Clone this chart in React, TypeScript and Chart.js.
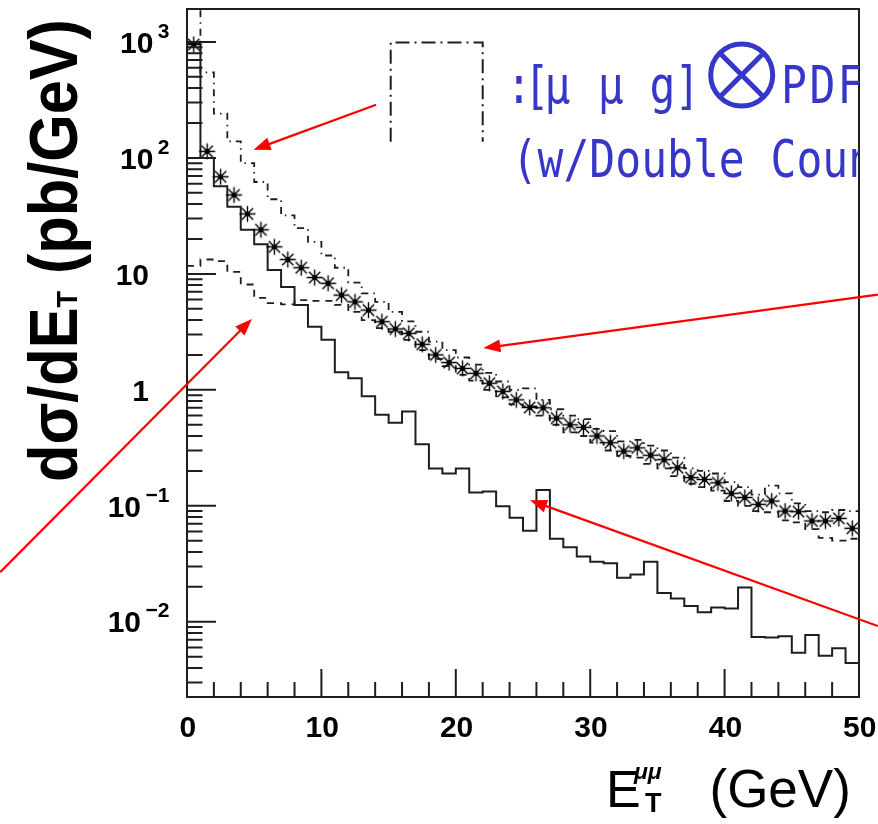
import React, { useEffect, useRef } from "react";
import { Chart, registerables } from "chart.js";

Chart.register(...registerables);

// ---- data ----
const binLowEdges = [
  0, 1, 2, 3, 4, 5, 6, 7, 8, 9, 10, 11, 12, 13, 14, 15, 16, 17, 18, 19, 20, 21, 22, 23, 24,
  25, 26, 27, 28, 29, 30, 31, 32, 33, 34, 35, 36, 37, 38, 39, 40, 41, 42, 43, 44, 45, 46, 47, 48, 49,
];
const lastBinUpperEdge = 50;

// asterisk markers (bin centres)
const starValues = [
  950, 114, 68.8, 47.9, 32.9, 24, 17.1, 13.3, 11.3, 9.3,
  8.3, 6.56, 5.74, 4.87, 3.87, 3.35, 3.07, 2.47, 2.0, 1.72,
  1.53, 1.39, 1.14, 0.97, 0.82, 0.705, 0.7, 0.57, 0.5, 0.475,
  0.4, 0.35, 0.296, 0.316, 0.273, 0.25, 0.213, 0.175, 0.169, 0.158,
  0.128, 0.118, 0.103, 0.11, 0.09, 0.089, 0.074, 0.074, 0.078, 0.064,
];
// solid histogram
const solidValues = [
  980, 100, 57, 38, 24, 18, 10.8, 7.7, 5.4, 3.5,
  2.7, 1.42, 1.26, 0.88, 0.61, 0.52, 0.65, 0.34, 0.21, 0.19,
  0.21, 0.13, 0.133, 0.099, 0.079, 0.061, 0.137, 0.052, 0.044, 0.0366,
  0.033, 0.032, 0.024, 0.0256, 0.033, 0.0177, 0.0159, 0.0137, 0.0121, 0.0133,
  0.013, 0.0197, 0.0074, 0.0073, 0.0075, 0.0054, 0.0077, 0.0051, 0.0059, 0.0044,
];
// upper dash-dotted histogram
const dashDotValues = [
  3000, 546, 241, 139, 90, 62, 44, 32, 24.8, 18.9,
  14.4, 11.3, 8.4, 6.8, 5.74, 4.7, 3.9, 3.17, 2.6, 2.2,
  1.9, 1.65, 1.4, 1.18, 1.0, 1.03, 0.82, 0.68, 0.6, 0.56,
  0.46, 0.44, 0.36, 0.37, 0.33, 0.3, 0.26, 0.21, 0.2, 0.19,
  0.16, 0.145, 0.125, 0.149, 0.128, 0.105, 0.09, 0.088, 0.092, 0.09,
];
// lower dashed histogram
const dashedValues = [
  11.7, 13.3, 12.9, 10.4, 8.1, 6.2, 5.6, 5.45, 5.95, 5.86,
  5.86, 5.4, 4.7, 4.0, 3.4, 3.17, 2.7, 2.2, 1.85, 1.6,
  1.35, 1.2, 1.0, 0.86, 0.75, 0.72, 0.6, 0.5, 0.43, 0.4,
  0.35, 0.3, 0.27, 0.26, 0.23, 0.21, 0.18, 0.155, 0.145, 0.135,
  0.11, 0.1, 0.09, 0.088, 0.075, 0.072, 0.063, 0.053, 0.05, 0.052,
];

// ---- axes / ticks ----
const X_MIN = 0;
const X_MAX = 50;
const Y_MIN = 0.002245;
const Y_MAX = 1924;
const xMajorTicks = [0, 10, 20, 30, 40, 50];
const xTickLabels = ["0", "10", "20", "30", "40", "50"];
const xMinorTicks = [2, 4, 6, 8, 12, 14, 16, 18, 22, 24, 26, 28, 32, 34, 36, 38, 42, 44, 46, 48];
const yMajorTicks = [1000, 100, 10, 1, 0.1, 0.01];
const yTickBase = ["10", "10", "10", "1", "10", "10"];
const yTickExp = ["3", "2", "", "", "\u22121", "\u22122"];
const yDecades = [0.001, 0.01, 0.1, 1, 10, 100, 1000];
const yMinorMultipliers = [2, 3, 4, 5, 6, 7, 8, 9];

// annotation arrows in data coordinates [x, y]
const arrows = [
  { from: [14.07, 287], to: [4.95, 117.5] },
  { from: [51.4, 6.63], to: [22.05, 2.29] },
  { from: [-13.9, 0.0268], to: [4.83, 4.09] },
  { from: [51.4, 0.00918], to: [25.52, 0.1116] },
];

const SANS = '"Liberation Sans", Arial, Helvetica, sans-serif';
const MONO = '"DejaVu Sans Mono", "Liberation Mono", monospace';
const BLUE = "#3636c8";
const INK = "#1e1e1e";

function histPoints(values: number[]) {
  const pts = binLowEdges.map((x, i) => ({ x, y: values[i] }));
  pts.push({ x: lastBinUpperEdge, y: values[values.length - 1] });
  return pts;
}

function makeStar(): HTMLCanvasElement {
  const c = document.createElement("canvas");
  c.width = 19;
  c.height = 19;
  const g = c.getContext("2d")!;
  g.translate(9.5, 9.5);
  g.strokeStyle = "#000";
  g.lineWidth = 1.4;
  const r = 8;
  g.beginPath();
  for (let k = 0; k < 4; k++) {
    const a = (k * Math.PI) / 4;
    g.moveTo(-r * Math.cos(a), -r * Math.sin(a));
    g.lineTo(r * Math.cos(a), r * Math.sin(a));
  }
  g.stroke();
  g.beginPath();
  g.arc(0, 0, 2.6, 0, Math.PI * 2);
  g.fillStyle = "#000";
  g.fill();
  return c;
}

const overlayPlugin = {
  id: "paw-overlay",
  afterDatasetsDraw(chart: any) {
    const { ctx, chartArea } = chart;
    const { left, right, top, bottom } = chartArea;
    const xs = chart.scales.x;
    const ys = chart.scales.y;
    ctx.save();
    ctx.strokeStyle = INK;
    ctx.lineWidth = 2;
    // frame
    ctx.strokeRect(left, top, right - left, bottom - top);
    // y ticks (inside)
    ctx.beginPath();
    yDecades.forEach((d) => {
      yMinorMultipliers.concat([1]).forEach((m) => {
        const v = m * d;
        if (v < Y_MIN || v > Y_MAX) return;
        const py = ys.getPixelForValue(v);
        const len = m === 1 ? 29 : 15.5;
        ctx.moveTo(left, py);
        ctx.lineTo(left + len, py);
      });
    });
    // x ticks (inside)
    xMajorTicks.forEach((v) => {
      const px = xs.getPixelForValue(v);
      ctx.moveTo(px, bottom);
      ctx.lineTo(px, bottom - 28);
    });
    xMinorTicks.forEach((v) => {
      const px = xs.getPixelForValue(v);
      ctx.moveTo(px, bottom);
      ctx.lineTo(px, bottom - 15);
    });
    ctx.stroke();
    ctx.restore();
  },
  afterDraw(chart: any) {
    const { ctx, chartArea } = chart;
    const { left, right, top, bottom } = chartArea;
    const xs = chart.scales.x;
    const ys = chart.scales.y;

    ctx.save();
    ctx.fillStyle = "#000";
    ctx.textBaseline = "alphabetic";

    // y tick labels
    yMajorTicks.forEach((v, i) => {
      const py = ys.getPixelForValue(v);
      const base = yTickBase[i];
      const exp = yTickExp[i];
      ctx.textAlign = "right";
      if (exp) {
        ctx.font = `bold 21px ${SANS}`;
        const we = ctx.measureText(exp).width;
        ctx.fillText(exp, 169.5, py - 4.3);
        ctx.font = `bold 30px ${SANS}`;
        ctx.fillText(base, 169.5 - we - 4.5, py + 10.7);
      } else {
        ctx.font = `bold 30px ${SANS}`;
        ctx.fillText(base, 149, py + 10.7);
      }
    });

    // x tick labels
    ctx.font = `bold 30px ${SANS}`;
    ctx.textAlign = "center";
    xMajorTicks.forEach((v, i) => {
      const px = xs.getPixelForValue(v);
      ctx.fillText(xTickLabels[i], px + 0.8, 736.7);
    });

    // x title  E^{μμ}_T (GeV)
    ctx.textAlign = "left";
    ctx.font = `52px ${SANS}`;
    ctx.fillText("E", 606, 806.5);
    ctx.font = `italic bold 23px ${SANS}`;
    ctx.fillText("\u03bc\u03bc", 634, 779);
    ctx.font = `bold 27px ${SANS}`;
    ctx.fillText("T", 645, 811.5);
    ctx.font = `53px ${SANS}`;
    ctx.fillText("(GeV)", 709.5, 807);

    // y title  dσ/dE_T (pb/GeV)
    ctx.save();
    ctx.translate(77, 482);
    ctx.rotate(-Math.PI / 2);
    const big = `bold 68px ${SANS}`;
    const small = `bold 30px ${SANS}`;
    ctx.font = big;
    const w1 = ctx.measureText("d\u03c3/dE").width;
    const w3 = ctx.measureText(" (pb/GeV)").width;
    ctx.font = small;
    const w2 = ctx.measureText("T").width;
    const sx = 463 / (w1 + w2 + w3);
    ctx.scale(sx, 1);
    ctx.font = big;
    ctx.fillText("d\u03c3/dE", 0, 0);
    ctx.font = small;
    ctx.fillText("T", w1, 0);
    ctx.font = big;
    ctx.fillText(" (pb/GeV)", w1 + w2, 0);
    ctx.restore();

    // legend box sample (dash-dot) and blue caption, clipped to plot area
    ctx.save();
    ctx.beginPath();
    ctx.rect(left, top, right - left, bottom - top);
    ctx.clip();
    ctx.strokeStyle = INK;
    ctx.lineWidth = 2;
    ctx.setLineDash([14, 5, 2, 5]);
    ctx.beginPath();
    ctx.moveTo(390.7, 141.7);
    ctx.lineTo(390.7, 42.5);
    ctx.lineTo(482.7, 42.5);
    ctx.lineTo(482.7, 141.7);
    ctx.stroke();
    ctx.setLineDash([]);

    ctx.fillStyle = BLUE;
    ctx.strokeStyle = BLUE;
    const monoFont = `43px ${MONO}`;
    const line1Chars = [":", "[", "\u03bc", "\u03bc", "g", "]", "P", "D", "F"];
    const line1Centers = [519, 536.7, 557.5, 610.8, 662.5, 687.5, 794, 822.5, 850.5];
    ctx.font = monoFont;
    ctx.textAlign = "center";
    line1Chars.forEach((ch, i) => {
      ctx.save();
      ctx.translate(line1Centers[i], 103.3);
      ctx.scale(1, 1.18);
      ctx.fillText(ch, 0, 0);
      ctx.restore();
    });
    // ⊗
    ctx.lineWidth = 5;
    ctx.beginPath();
    ctx.arc(741.7, 75, 31, 0, Math.PI * 2);
    ctx.stroke();
    const d = 31 * Math.SQRT1_2;
    ctx.beginPath();
    ctx.moveTo(741.7 - d, 75 - d);
    ctx.lineTo(741.7 + d, 75 + d);
    ctx.moveTo(741.7 + d, 75 - d);
    ctx.lineTo(741.7 - d, 75 + d);
    ctx.stroke();
    // second line
    ctx.textAlign = "left";
    ctx.save();
    ctx.translate(511.7, 176.7);
    ctx.scale(1, 1.18);
    ctx.fillText("(w/Double Counting)", 0, 0);
    ctx.restore();
    ctx.restore();

    // red arrows
    ctx.strokeStyle = "#ff0000";
    ctx.fillStyle = "#ff0000";
    ctx.lineWidth = 2.2;
    arrows.forEach((a) => {
      const x0 = xs.getPixelForValue(a.from[0]);
      const y0 = ys.getPixelForValue(a.from[1]);
      const x1 = xs.getPixelForValue(a.to[0]);
      const y1 = ys.getPixelForValue(a.to[1]);
      const dx = x1 - x0;
      const dy = y1 - y0;
      const L = Math.hypot(dx, dy);
      const ux = dx / L;
      const uy = dy / L;
      const hl = 17;
      const hw = 6.5;
      ctx.beginPath();
      ctx.moveTo(x0, y0);
      ctx.lineTo(x1 - ux * hl * 0.8, y1 - uy * hl * 0.8);
      ctx.stroke();
      ctx.beginPath();
      ctx.moveTo(x1, y1);
      ctx.lineTo(x1 - ux * hl - uy * hw, y1 - uy * hl + ux * hw);
      ctx.lineTo(x1 - ux * hl + uy * hw, y1 - uy * hl - ux * hw);
      ctx.closePath();
      ctx.fill();
    });

    ctx.restore();
  },
};

export default function App() {
  const ref = useRef<HTMLCanvasElement | null>(null);

  useEffect(() => {
    const canvas = ref.current;
    if (!canvas) return;
    const starImg = makeStar();
    const lineCommon = {
      stepped: true as const,
      pointRadius: 0,
      pointHoverRadius: 0,
      fill: false,
      borderColor: INK,
      borderWidth: 2,
    };
    const chart = new Chart(canvas, {
      type: "line",
      data: {
        datasets: [
          {
            label: "stars",
            data: starValues.map((v, i) => ({ x: binLowEdges[i] + 0.5, y: v })),
            showLine: false,
            pointStyle: starImg as any,
            pointRadius: 8,
            pointHoverRadius: 8,
            borderColor: "#000",
            backgroundColor: "#000",
          },
          { label: "solid", data: histPoints(solidValues), ...lineCommon },
          {
            label: "dash-dot",
            data: histPoints(dashDotValues),
            ...lineCommon,
            borderWidth: 1.8,
            borderDash: [7, 5, 1.5, 5],
          },
          {
            label: "dashed",
            data: histPoints(dashedValues),
            ...lineCommon,
            borderWidth: 1.8,
            borderDash: [7, 6],
          },
        ],
      },
      options: {
        animation: false,
        responsive: false,
        devicePixelRatio: 1,
        events: [],
        layout: { padding: { left: 0, top: 8, right: 19, bottom: 0 } },
        plugins: { legend: { display: false }, tooltip: { enabled: false } },
        scales: {
          x: {
            type: "linear",
            min: X_MIN,
            max: X_MAX,
            ticks: { display: false },
            grid: { display: false },
            border: { display: false },
            afterFit: (s: any) => {
              s.height = 127;
            },
          },
          y: {
            type: "logarithmic",
            min: Y_MIN,
            max: Y_MAX,
            ticks: { display: false },
            grid: { display: false },
            border: { display: false },
            afterFit: (s: any) => {
              s.width = 187;
            },
          },
        },
      },
      plugins: [overlayPlugin],
    });
    return () => chart.destroy();
  }, []);

  return (
    <div style={{ position: "absolute", left: 0, top: 0, width: 878, height: 824, background: "#fff" }}>
      <canvas ref={ref} width={878} height={824} style={{ display: "block" }} />
    </div>
  );
}
